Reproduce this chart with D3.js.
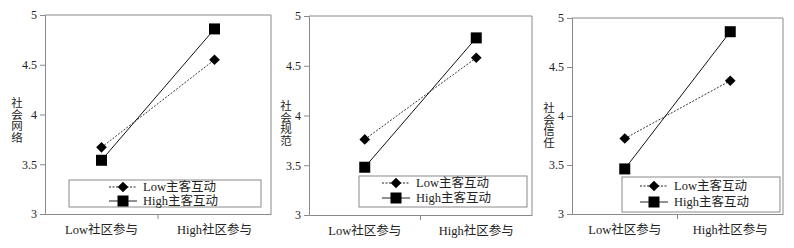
<!DOCTYPE html>
<html>
<head>
<meta charset="UTF-8">
<script src="https://d3js.org/d3.v7.min.js"></script>
<style>
  body { margin: 0; background: #fff; }
  text { font-family: "Liberation Serif", "Noto Sans CJK SC", serif; fill: #222; }
</style>
</head>
<body>
<svg id="canvas"></svg>
<script>
width = 794;
height = 248;

categories = ["Low社区参与", "High社区参与"];
seriesNames = ["Low主客互动", "High主客互动"];
yTicks = [3, 3.5, 4, 4.5, 5];
yLabels = ["社会网络", "社会规范", "社会信任"];

// values per panel: [low 主客互动, high 主客互动]
lowNetwork = [3.67, 4.55];
highNetwork = [3.54, 4.86];
lowNorm = [3.76, 4.58];
highNorm = [3.48, 4.78];
lowTrust = [3.77, 4.36];
highTrust = [3.46, 4.86];

panels = [
  {label: yLabels[0], low: lowNetwork, high: highNetwork, left: 45, right: 271, top: 15, bottom: 214, labelX: 17, labelY: 97,
   legend: {x: 69, y: 180, w: 192, h: 27, l: 40, rows: [7, 21]}},
  {label: yLabels[1], low: lowNorm, high: highNorm, left: 309, right: 532, top: 16, bottom: 215, labelX: 286, labelY: 100,
   legend: {x: 359, y: 176, w: 168, h: 31, l: 23, rows: [7, 22]}},
  {label: yLabels[2], low: lowTrust, high: highTrust, left: 572, right: 783, top: 18, bottom: 214, labelX: 549, labelY: 102,
   legend: {x: 622, y: 177, w: 158, h: 35, l: 18, rows: [9, 25]}}
];

svg = d3.select("#canvas").attr("width", width).attr("height", height);

axisColor = "#8a8a8a";

function diamond(g, cx, cy) {
  g.append("path")
    .attr("d", d3.symbol().type(d3.symbolDiamond2).size(72)())
    .attr("transform", "translate(" + cx + "," + cy + ")")
    .attr("fill", "#000");
}
function square(g, cx, cy) {
  g.append("rect")
    .attr("x", cx - 5.5).attr("y", cy - 5.5)
    .attr("width", 11).attr("height", 11)
    .attr("fill", "#000");
}

panels.forEach(p => {
  g = svg.append("g");

  x = d3.scaleBand().domain(categories).range([p.left, p.right]);
  y = d3.scaleLinear().domain([3, 5]).range([p.bottom, p.top]);
  cx = d => x(d) + x.bandwidth() / 2;

  // frame top/right
  g.append("path")
    .attr("d", "M" + p.left + "," + p.top + "H" + p.right + "V" + p.bottom)
    .attr("fill", "none").attr("stroke", axisColor);

  // y axis
  yAxis = g.append("g")
    .attr("transform", "translate(" + p.left + ",0)")
    .call(d3.axisLeft(y).tickValues(yTicks).tickSize(5).tickPadding(3).tickFormat(d3.format("")));
  yAxis.select(".domain").attr("stroke", axisColor);
  yAxis.selectAll(".tick line").attr("stroke", axisColor);
  yAxis.selectAll("text").attr("font-size", 12).attr("fill", "#222")
    .attr("font-family", "Liberation Serif, serif");

  // x axis
  xAxis = g.append("g")
    .attr("transform", "translate(0," + p.bottom + ")")
    .call(d3.axisBottom(x).tickSize(0).tickPadding(11));
  xAxis.select(".domain").attr("stroke", axisColor);
  xAxis.selectAll("text").attr("font-size", 12.5).attr("fill", "#222")
    .attr("font-family", "Liberation Serif, Noto Sans CJK SC, serif");
  g.append("line")
    .attr("x1", (p.left + p.right) / 2).attr("x2", (p.left + p.right) / 2)
    .attr("y1", p.bottom).attr("y2", p.bottom + 5)
    .attr("stroke", axisColor);

  // vertical y label
  g.append("g").selectAll("text")
    .data(p.label.split(""))
    .join("text")
      .attr("x", p.labelX)
      .attr("y", (d, i) => p.labelY + 10 + i * 11.5)
      .attr("text-anchor", "middle")
      .attr("font-size", 11.5)
      .attr("fill", "#333")
      .attr("font-family", "Noto Sans CJK SC")
      .text(d => d);

  // lines
  line = d3.line().x((d, i) => cx(categories[i])).y(d => y(d));
  g.append("path").datum(p.low).attr("d", line)
    .attr("fill", "none").attr("stroke", "#222").attr("stroke-width", 0.9)
    .attr("stroke-dasharray", "2,1.5");
  g.append("path").datum(p.high).attr("d", line)
    .attr("fill", "none").attr("stroke", "#111").attr("stroke-width", 1);

  p.low.forEach((v, i) => diamond(g, cx(categories[i]), y(v)));
  p.high.forEach((v, i) => square(g, cx(categories[i]), y(v)));

  // legend
  L = p.legend;
  lg = g.append("g").attr("transform", "translate(" + L.x + "," + L.y + ")");
  lg.append("rect").attr("width", L.w).attr("height", L.h)
    .attr("fill", "#fff").attr("stroke", axisColor);
  [0, 1].forEach(k => {
    ry = L.rows[k];
    ln = lg.append("line").attr("x1", L.l).attr("x2", L.l + 28).attr("y1", ry).attr("y2", ry)
      .attr("stroke", "#222").attr("stroke-width", 1);
    if (k === 0) ln.attr("stroke-dasharray", "2,1.5");
    if (k === 0) diamond(lg, L.l + 14, ry); else square(lg, L.l + 14, ry);
    lg.append("text").attr("x", L.l + 34).attr("y", ry).attr("dy", "0.35em")
      .attr("font-size", 12.5)
      .attr("font-family", "Liberation Serif, Noto Sans CJK SC, serif")
      .text(seriesNames[k]);
  });
});
</script>
</body>
</html>
